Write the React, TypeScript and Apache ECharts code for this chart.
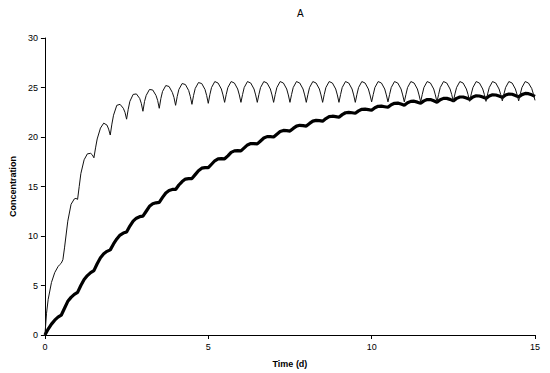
import React, { useEffect, useRef } from "react";
import * as echarts from "echarts";

const titleText = "A";
const xAxisName = "Time (d)";
const yAxisName = "Concentration";
const xTicks = { min: 0, max: 15, interval: 5 };
const yTicks = { min: 0, max: 30, interval: 5 };

// thin line: frequent dosing (time in days, concentration)
const thinSeries: [number, number][] = [
  [0, 0], [0.05, 2.2], [0.1, 3.6], [0.2, 5.3], [0.3, 6.3], [0.4, 6.9], [0.45, 7.1],
  [0.5, 7.25], [0.55, 7.6], [0.6, 8.8], [0.7, 11.5], [0.8, 13.2], [0.9, 13.75], [0.95, 13.8],
  [1.0, 13.7], [1.05, 15.0], [1.1, 16.3], [1.2, 17.7], [1.3, 18.3], [1.4, 18.35], [1.45, 18.2],
  [1.5, 17.9], [1.55, 18.9], [1.6, 19.8], [1.7, 20.9], [1.8, 21.4], [1.9, 21.2], [1.95, 20.8],
  [2.0, 20.2], [2.05, 21.3], [2.1, 22.2], [2.2, 23.2], [2.3, 23.3], [2.4, 22.9], [2.45, 22.5],
  [2.5, 21.8], [2.55, 22.8], [2.6, 23.6], [2.7, 24.3], [2.8, 24.35], [2.9, 23.9], [2.95, 23.4],
  [3.0, 22.6], [3.05, 23.6], [3.1, 24.2], [3.2, 24.8], [3.3, 24.75], [3.4, 24.2], [3.45, 23.7],
  [3.5, 22.9], [3.55, 23.9], [3.6, 24.6], [3.7, 25.2], [3.8, 25.1], [3.9, 24.5], [3.95, 24.0],
  [4.0, 23.2], [4.05, 24.1], [4.1, 24.8], [4.2, 25.4], [4.3, 25.3], [4.4, 24.7], [4.45, 24.1],
  [4.5, 23.3], [4.55, 24.2], [4.6, 24.9], [4.7, 25.5], [4.8, 25.4], [4.9, 24.8], [4.95, 24.2],
  [5.0, 23.4], [5.05, 24.3], [5.1, 25.0], [5.2, 25.6], [5.3, 25.45], [5.4, 24.85], [5.45, 24.25],
  [5.5, 23.5], [5.55, 24.3], [5.6, 25.0], [5.7, 25.6], [5.8, 25.45], [5.9, 24.85], [5.95, 24.25],
  [6.0, 23.5], [6.05, 24.3], [6.1, 25.0], [6.2, 25.6], [6.3, 25.45], [6.4, 24.85], [6.45, 24.25],
  [6.5, 23.5], [6.55, 24.3], [6.6, 25.0], [6.7, 25.6], [6.8, 25.45], [6.9, 24.85], [6.95, 24.25],
  [7.0, 23.5], [7.05, 24.3], [7.1, 25.0], [7.2, 25.6], [7.3, 25.45], [7.4, 24.85], [7.45, 24.25],
  [7.5, 23.5], [7.55, 24.3], [7.6, 25.0], [7.7, 25.6], [7.8, 25.45], [7.9, 24.85], [7.95, 24.25],
  [8.0, 23.5], [8.05, 24.3], [8.1, 25.0], [8.2, 25.6], [8.3, 25.45], [8.4, 24.85], [8.45, 24.25],
  [8.5, 23.5], [8.55, 24.3], [8.6, 25.0], [8.7, 25.6], [8.8, 25.45], [8.9, 24.85], [8.95, 24.25],
  [9.0, 23.5], [9.05, 24.3], [9.1, 25.0], [9.2, 25.6], [9.3, 25.45], [9.4, 24.85], [9.45, 24.25],
  [9.5, 23.5], [9.55, 24.3], [9.6, 25.0], [9.7, 25.6], [9.8, 25.45], [9.9, 24.85], [9.95, 24.25],
  [10.0, 23.55], [10.05, 24.3], [10.1, 25.0], [10.2, 25.6], [10.3, 25.45], [10.4, 24.85], [10.45, 24.25],
  [10.5, 23.55], [10.55, 24.3], [10.6, 25.0], [10.7, 25.6], [10.8, 25.45], [10.9, 24.85], [10.95, 24.25],
  [11.0, 23.55], [11.05, 24.3], [11.1, 25.0], [11.2, 25.6], [11.3, 25.45], [11.4, 24.85], [11.45, 24.25],
  [11.5, 23.55], [11.55, 24.3], [11.6, 25.0], [11.7, 25.6], [11.8, 25.45], [11.9, 24.85], [11.95, 24.25],
  [12.0, 23.55], [12.05, 24.3], [12.1, 25.0], [12.2, 25.6], [12.3, 25.45], [12.4, 24.85], [12.45, 24.3],
  [12.5, 23.6], [12.55, 24.35], [12.6, 25.0], [12.7, 25.6], [12.8, 25.45], [12.9, 24.85], [12.95, 24.3],
  [13.0, 23.6], [13.05, 24.35], [13.1, 25.0], [13.2, 25.6], [13.3, 25.45], [13.4, 24.85], [13.45, 24.3],
  [13.5, 23.6], [13.55, 24.35], [13.6, 25.0], [13.7, 25.6], [13.8, 25.45], [13.9, 24.85], [13.95, 24.3],
  [14.0, 23.65], [14.05, 24.35], [14.1, 25.0], [14.2, 25.6], [14.3, 25.45], [14.4, 24.85], [14.45, 24.3],
  [14.5, 23.65], [14.55, 24.35], [14.6, 25.0], [14.7, 25.6], [14.8, 25.45], [14.9, 24.9], [14.95, 24.35],
  [15.0, 23.7],
];

// thick line: slower accumulation (time in days, concentration)
const thickSeries: [number, number][] = [
  [0, 0], [0.1, 0.6], [0.2, 1.1], [0.3, 1.5], [0.4, 1.8],
  [0.5, 2.0], [0.6, 2.7], [0.7, 3.4], [0.8, 3.8], [0.9, 4.1],
  [1.0, 4.3], [1.1, 5.0], [1.2, 5.6], [1.3, 6.0], [1.4, 6.3],
  [1.5, 6.5], [1.6, 7.2], [1.7, 7.8], [1.8, 8.2], [1.9, 8.45],
  [2.0, 8.6], [2.1, 9.2], [2.2, 9.7], [2.3, 10.1], [2.4, 10.3],
  [2.5, 10.4], [2.6, 11.0], [2.7, 11.5], [2.8, 11.8], [2.9, 11.95],
  [3.0, 12.0], [3.1, 12.5], [3.2, 13.0], [3.3, 13.25], [3.4, 13.35],
  [3.5, 13.4], [3.6, 13.9], [3.7, 14.35], [3.8, 14.6], [3.9, 14.7],
  [4.0, 14.7], [4.1, 15.15], [4.2, 15.5], [4.3, 15.75], [4.4, 15.8],
  [4.5, 15.8], [4.6, 16.2], [4.7, 16.6], [4.8, 16.85], [4.9, 16.9],
  [5.0, 16.9], [5.1, 17.25], [5.2, 17.6], [5.3, 17.8], [5.4, 17.82],
  [5.5, 17.8], [5.6, 18.1], [5.7, 18.45], [5.8, 18.6], [5.9, 18.62],
  [6.0, 18.6], [6.1, 18.9], [6.2, 19.2], [6.3, 19.34], [6.4, 19.33],
  [6.5, 19.3], [6.6, 19.6], [6.7, 19.9], [6.8, 20.04], [6.9, 20.03],
  [7.0, 20.0], [7.1, 20.28], [7.2, 20.55], [7.3, 20.66], [7.4, 20.64],
  [7.5, 20.6], [7.6, 20.87], [7.7, 21.1], [7.8, 21.18], [7.9, 21.15],
  [8.0, 21.1], [8.1, 21.37], [8.2, 21.6], [8.3, 21.68], [8.4, 21.65],
  [8.5, 21.6], [8.6, 21.86], [8.7, 22.05], [8.8, 22.1], [8.9, 22.06],
  [9.0, 22.0], [9.1, 22.26], [9.2, 22.45], [9.3, 22.49], [9.4, 22.45],
  [9.5, 22.4], [9.6, 22.64], [9.7, 22.8], [9.8, 22.82], [9.9, 22.77],
  [10.0, 22.7], [10.1, 22.95], [10.2, 23.1], [10.3, 23.12], [10.4, 23.06],
  [10.5, 23.0], [10.6, 23.26], [10.7, 23.4], [10.8, 23.42], [10.9, 23.33],
  [11.0, 23.2], [11.1, 23.46], [11.2, 23.6], [11.3, 23.62], [11.4, 23.52],
  [11.5, 23.4], [11.6, 23.65], [11.7, 23.78], [11.8, 23.78], [11.9, 23.66],
  [12.0, 23.5], [12.1, 23.76], [12.2, 23.9], [12.3, 23.9], [12.4, 23.8],
  [12.5, 23.65], [12.6, 23.9], [12.7, 24.04], [12.8, 24.04], [12.9, 23.94],
  [13.0, 23.8], [13.1, 24.04], [13.2, 24.16], [13.3, 24.14], [13.4, 24.04],
  [13.5, 23.9], [13.6, 24.14], [13.7, 24.26], [13.8, 24.24], [13.9, 24.14],
  [14.0, 24.0], [14.1, 24.24], [14.2, 24.34], [14.3, 24.32], [14.4, 24.2],
  [14.5, 24.05], [14.6, 24.28], [14.7, 24.4], [14.8, 24.38], [14.9, 24.26],
  [15.0, 24.1],
];

const FONT = "'Liberation Sans', Arial, sans-serif";

export default function App() {
  const ref = useRef<HTMLDivElement>(null);

  useEffect(() => {
    if (!ref.current) return;
    const chart = echarts.init(ref.current, undefined, { renderer: "svg" });
    const axisCommon = {
      axisLine: { show: true, lineStyle: { color: "#000", width: 1 } },
      axisTick: { show: true, inside: false, length: 4, lineStyle: { color: "#000", width: 1 } },
      splitLine: { show: false },
      axisLabel: { color: "#000", fontSize: 9, fontFamily: FONT },
      nameTextStyle: { color: "#000", fontSize: 9, fontWeight: "bold" as const, fontFamily: FONT },
    };
    chart.setOption({
      animation: false,
      backgroundColor: "#fff",
      title: {
        text: titleText,
        left: 292,
        top: 3,
        textStyle: { color: "#000", fontSize: 10, fontWeight: "normal", fontFamily: FONT },
      },
      grid: { left: 38, right: 15, top: 38, bottom: 37, containLabel: false },
      xAxis: {
        type: "value",
        ...xTicks,
        ...axisCommon,
        axisLabel: { ...axisCommon.axisLabel, margin: 7 },
        name: xAxisName,
        nameLocation: "middle",
        nameGap: 24,
      },
      yAxis: {
        type: "value",
        ...yTicks,
        ...axisCommon,
        axisLabel: { ...axisCommon.axisLabel, margin: 7 },
        name: yAxisName,
        nameLocation: "middle",
        nameGap: 22,
        nameRotate: 90,
      },
      series: [
        {
          type: "line",
          data: thinSeries,
          showSymbol: false,
          smooth: false,
          lineStyle: { color: "#111", width: 1 },
          z: 3,
        },
        {
          type: "line",
          data: thickSeries,
          showSymbol: false,
          smooth: false,
          lineStyle: { color: "#000", width: 3.2 },
          z: 2,
        },
      ],
    });
    return () => chart.dispose();
  }, []);

  return (
    <div
      ref={ref}
      style={{ position: "fixed", left: 0, top: 0, width: 550, height: 373, background: "#fff" }}
    />
  );
}
